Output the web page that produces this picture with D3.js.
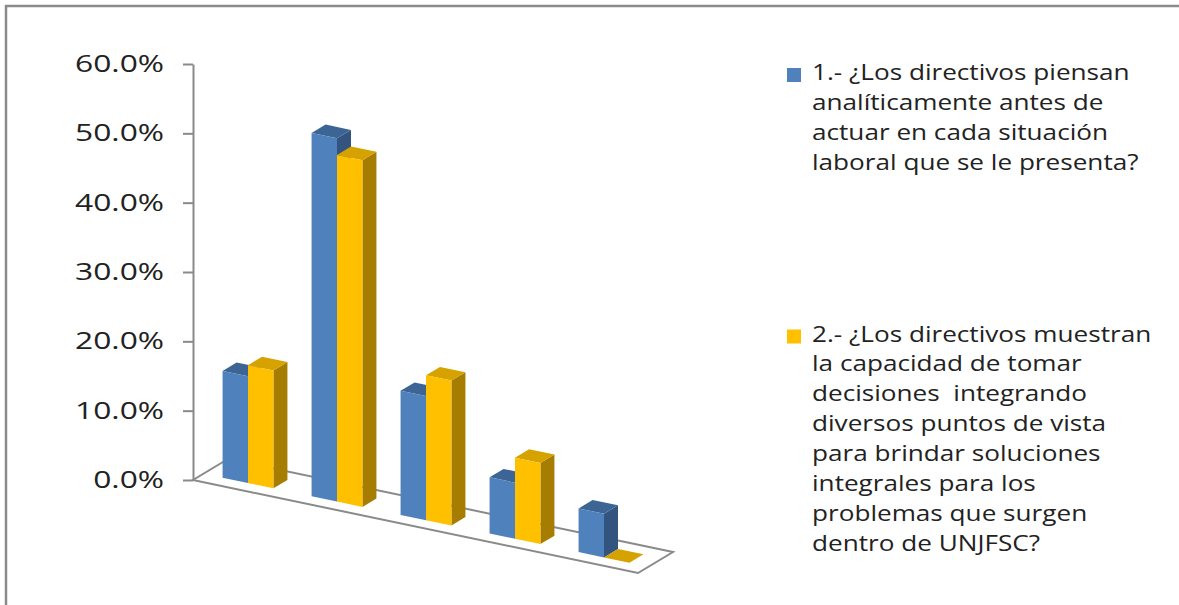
<!DOCTYPE html>
<html>
<head>
<meta charset="utf-8">
<script src="https://cdn.jsdelivr.net/npm/d3@7"></script>
<style>
  html, body { margin: 0; padding: 0; background: #fff; }
  svg { display: block; }
  text { font-family: "Open Sans", "Noto Sans", sans-serif; fill: #222; }
</style>
</head>
<body>
<svg id="chart" width="1179" height="605"></svg>
<script>
// ---- data ----
const categories = [1, 2, 3, 4, 5];
const seriesKeys = ["s1", "s2"];
const series1Values = [0.154, 0.524, 0.179, 0.081, 0.063];
const series2Values = [0.170, 0.500, 0.209, 0.117, 0.000];
const series1Label = ["1.- ¿Los directivos piensan", "analíticamente antes de", "actuar en cada situación", "laboral que se le presenta?"];
const series2Label = ["2.- ¿Los directivos muestran", "la capacidad de tomar", "decisiones  integrando", "diversos puntos de vista", "para brindar soluciones", "integrales para los", "problemas que surgen", "dentro de UNJFSC?"];
const valueTicks = [0, 0.1, 0.2, 0.3, 0.4, 0.5, 0.6];

// ---- styles ----
const palette = {
  s1: { front: "#4F81BD", top: "#3C6595", side: "#32547F" },
  s2: { front: "#FFC000", top: "#D5A200", side: "#A67D00" }
};
const gridStroke = "#8A8A8A";
const textStretch = 1.245;   // legend text is drawn slightly wide
const tickStretch = 1.38;    // value labels a bit wider still

const svg = d3.select("#chart");

// outer chart frame
svg.append("rect")
  .attr("x", 6).attr("y", 6).attr("width", 1300).attr("height", 700)
  .attr("fill", "none").attr("stroke", gridStroke).attr("stroke-width", 2.5);

// ---- oblique projection of the plot box ----
// u: position along category axis (0..1), w: depth (0 front .. 1 back), h: height in px
const origin = [193, 480];
const alongVec = [445, 93];
const depthVec = [35, -21];
function project(u, w, h) {
  return [origin[0] + u * alongVec[0] + w * depthVec[0],
          origin[1] + u * alongVec[1] + w * depthVec[1] - h];
}

const xBand = d3.scaleBand().domain(categories).range([0, 1])
  .paddingInner(1.5 / 3.5).paddingOuter(0.75 / 3.5);
const xSeries = d3.scaleBand().domain(seriesKeys).range([0, xBand.bandwidth()]);
// gap depth 150%: one bar-depth in the middle of the floor
const depthBand = d3.scaleBand().domain(["bar"]).range([0, 1]).paddingInner(0).paddingOuter(0.75);
const hScale = d3.scaleLinear().domain([0, 0.6]).range([0, 416]);
const yAxisScale = d3.scaleLinear().domain([0, 0.6]).range([origin[1], origin[1] - 416]);

// floor
const floorPts = [project(0, 0, 0), project(1, 0, 0), project(1, 1, 0), project(0, 1, 0)];
svg.append("polygon")
  .attr("points", floorPts.map(p => p.join(",")).join(" "))
  .attr("fill", "#fff").attr("stroke", gridStroke).attr("stroke-width", 2)
  .attr("stroke-linejoin", "miter");

// value axis
const yAxis = d3.axisLeft(yAxisScale)
  .tickValues(valueTicks)
  .tickFormat(d3.format(".1%"))
  .tickSizeInner(10).tickSizeOuter(0).tickPadding(19);
const axisG = svg.append("g").attr("transform", `translate(${origin[0]},0)`).call(yAxis);
axisG.select(".domain").attr("stroke", gridStroke).attr("stroke-width", 2);
axisG.selectAll(".tick line").attr("stroke", gridStroke).attr("stroke-width", 2);
axisG.selectAll(".tick text")
  .attr("fill", "#222")
  .attr("x", 0)
  .attr("transform", `translate(-29,0) scale(${tickStretch},1)`)
  .style("font-family", '"Open Sans", "Noto Sans", sans-serif')
  .style("font-size", "23px");

// ---- bars ----
const bars = [];
categories.forEach((c, i) => {
  bars.push({ cat: c, key: "s1", value: series1Values[i] });
  bars.push({ cat: c, key: "s2", value: series2Values[i] });
});

const w0 = depthBand("bar"), w1 = w0 + depthBand.bandwidth();
const poly = pts => pts.map(p => p.join(",")).join(" ");

const barG = svg.append("g")
  .selectAll("g").data(bars).join("g");

barG.each(function(d) {
  const g = d3.select(this);
  const u0 = xBand(d.cat) + xSeries(d.key);
  const u1 = u0 + xSeries.bandwidth();
  const h = hScale(d.value);
  const col = palette[d.key];
  // right side face
  g.append("polygon")
    .attr("points", poly([project(u1, w0, 0), project(u1, w1, 0), project(u1, w1, h), project(u1, w0, h)]))
    .attr("fill", col.side);
  // top face
  g.append("polygon")
    .attr("points", poly([project(u0, w0, h), project(u1, w0, h), project(u1, w1, h), project(u0, w1, h)]))
    .attr("fill", col.top);
  // front face
  g.append("polygon")
    .attr("points", poly([project(u0, w0, 0), project(u1, w0, 0), project(u1, w0, h), project(u0, w0, h)]))
    .attr("fill", col.front);
});

// ---- legend ----
const legendItems = [
  { key: "s1", lines: series1Label, y: 80 },
  { key: "s2", lines: series2Label, y: 341.5 }
];
const legG = svg.append("g").selectAll("g").data(legendItems).join("g");
legG.append("rect")
  .attr("x", 787).attr("y", d => d.y - 12).attr("width", 14).attr("height", 14)
  .attr("fill", d => palette[d.key].front);
legG.each(function(d) {
  const t = d3.select(this).append("text")
    .attr("transform", `translate(812,${d.y}) scale(${textStretch},1)`)
    .style("font-size", "21px")
    .attr("xml:space", "preserve");
  t.selectAll("tspan").data(d.lines).join("tspan")
    .attr("x", 0)
    .attr("dy", (l, i) => i === 0 ? 0 : 30)
    .text(l => l);
});
</script>
</body>
</html>
